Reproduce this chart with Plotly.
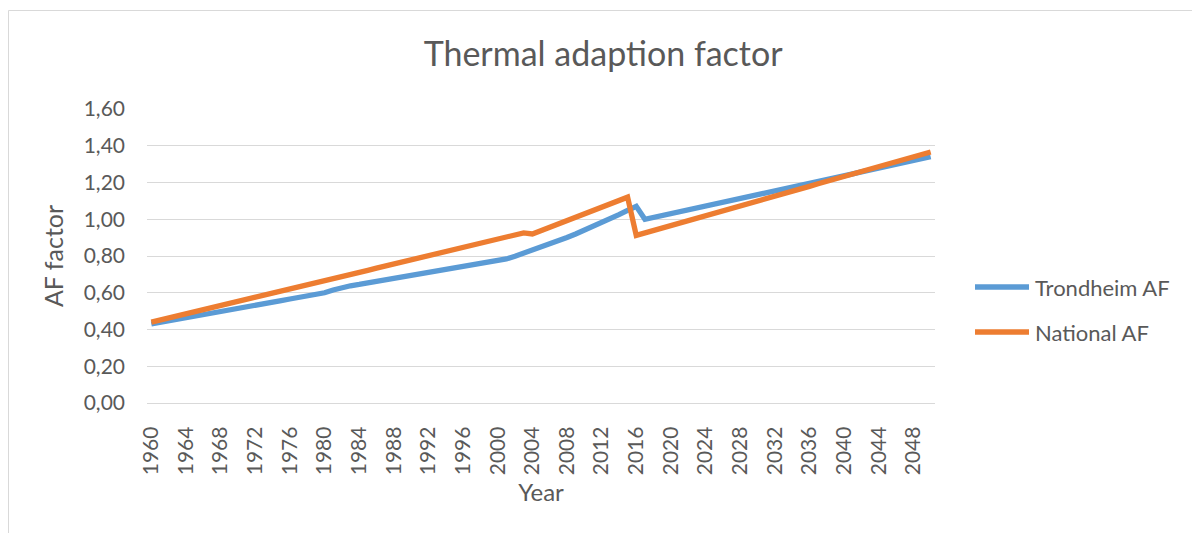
import plotly.graph_objects as go

# Years on the category axis
years = list(range(1960, 2051))

# Thermal adaption factor, Trondheim
trondheim_af = [
    0.430, 0.438, 0.447, 0.455, 0.464, 0.472, 0.481, 0.489, 0.498, 0.506,
    0.515, 0.523, 0.532, 0.540, 0.549, 0.557, 0.566, 0.574, 0.583, 0.591,
    0.600, 0.615, 0.630, 0.638, 0.645, 0.653, 0.661, 0.669, 0.677, 0.685,
    0.692, 0.700, 0.708, 0.716, 0.724, 0.731, 0.739, 0.747, 0.755, 0.762,
    0.770, 0.784, 0.799, 0.815, 0.832, 0.849, 0.866, 0.883, 0.901, 0.920,
    0.940, 0.960, 0.980, 1.002, 1.025, 1.048, 1.070, 1.000, 1.010, 1.021,
    1.031, 1.041, 1.052, 1.062, 1.072, 1.082, 1.093, 1.103, 1.113, 1.124,
    1.134, 1.144, 1.155, 1.165, 1.175, 1.185, 1.196, 1.206, 1.216, 1.227,
    1.237, 1.247, 1.258, 1.268, 1.278, 1.288, 1.299, 1.309, 1.319, 1.330,
    1.340,
]

# Thermal adaption factor, national
national_af = [
    0.440, 0.451, 0.463, 0.474, 0.485, 0.497, 0.508, 0.519, 0.530, 0.542,
    0.553, 0.564, 0.576, 0.587, 0.598, 0.609, 0.621, 0.632, 0.643, 0.655,
    0.666, 0.677, 0.689, 0.700, 0.711, 0.722, 0.734, 0.745, 0.756, 0.768,
    0.779, 0.790, 0.801, 0.813, 0.824, 0.835, 0.847, 0.858, 0.869, 0.881,
    0.892, 0.903, 0.914, 0.926, 0.920, 0.938, 0.956, 0.975, 0.993, 1.011,
    1.029, 1.047, 1.065, 1.084, 1.102, 1.120, 0.912, 0.925, 0.939, 0.952,
    0.966, 0.979, 0.992, 1.006, 1.019, 1.032, 1.046, 1.059, 1.073, 1.086,
    1.099, 1.113, 1.126, 1.139, 1.153, 1.166, 1.179, 1.193, 1.206, 1.220,
    1.233, 1.246, 1.260, 1.273, 1.286, 1.300, 1.313, 1.326, 1.340, 1.353,
    1.366,
]

series_names = ["Trondheim AF", "National AF"]
series_colors = ["#5B9BD5", "#ED7D31"]

y_ticks = [0.0, 0.2, 0.4, 0.6, 0.8, 1.0, 1.2, 1.4, 1.6]
y_tick_labels = [f"{v:.2f}".replace(".", ",") for v in y_ticks]
x_ticks = list(range(1960, 2051, 4))

W, H = 1192, 533
PLOT_L, PLOT_R, PLOT_T, PLOT_B = 147, 935, 109, 403
FONT = "Lato"
TEXT = "#595959"
GRID = "#D9D9D9"


def px_x(px):
    return (px - PLOT_L) / (PLOT_R - PLOT_L)


def px_y(py):
    return (PLOT_B - py) / (PLOT_B - PLOT_T)


fig = go.Figure()
for name, vals, col in zip(series_names, [trondheim_af, national_af], series_colors):
    fig.add_trace(go.Scatter(
        x=years, y=vals, mode="lines", name=name,
        line=dict(color=col, width=5.3, shape="linear"),
        showlegend=False,
    ))

# Chart-area frame (left and top edges)
shapes = [
    dict(type="line", xref="paper", yref="paper",
         x0=px_x(8.5), x1=px_x(W + 5), y0=px_y(10.5), y1=px_y(10.5),
         line=dict(color=GRID, width=1)),
    dict(type="line", xref="paper", yref="paper",
         x0=px_x(8.5), x1=px_x(8.5), y0=px_y(10.5), y1=px_y(H + 5),
         line=dict(color=GRID, width=1)),
]

# Legend entries drawn to the right of the plot
annotations = []
legend_rows = [287, 332]
for name, col, row in zip(series_names, series_colors, legend_rows):
    shapes.append(dict(type="line", xref="paper", yref="paper",
                       x0=px_x(975), x1=px_x(1029), y0=px_y(row), y1=px_y(row),
                       line=dict(color=col, width=5.3)))
    annotations.append(dict(text=name, xref="paper", yref="paper",
                            x=px_x(1033), y=px_y(row), xanchor="left",
                            yanchor="middle", showarrow=False,
                            font=dict(family=FONT, size=22, color=TEXT)))

fig.update_layout(
    width=W, height=H,
    margin=dict(l=PLOT_L, r=W - PLOT_R, t=PLOT_T, b=H - PLOT_B, pad=0),
    paper_bgcolor="white", plot_bgcolor="white",
    font=dict(family=FONT, color=TEXT),
    title=dict(text="Thermal adaption factor", x=0.506, xanchor="center",
               y=1 - 54 / H, yanchor="middle", yref="container",
               font=dict(family=FONT, size=34, color=TEXT)),
    shapes=shapes,
    annotations=annotations,
    xaxis=dict(
        range=[1959.5, 2050.5], tickmode="array", tickvals=x_ticks,
        ticktext=[str(v) for v in x_ticks], tickangle=-90,
        tickfont=dict(family=FONT, size=21, color=TEXT),
        showgrid=False, zeroline=False, showline=True, linecolor=GRID,
        linewidth=1.3, ticks="", ticklabelstandoff=14,
        title=dict(text="Year", font=dict(family=FONT, size=24, color=TEXT),
                   standoff=9),
    ),
    yaxis=dict(
        range=[0, 1.6], tickmode="array", tickvals=y_ticks,
        ticktext=y_tick_labels,
        tickfont=dict(family=FONT, size=21, color=TEXT),
        showgrid=True, gridcolor=GRID, gridwidth=1.3, zeroline=False,
        showline=False, ticks="", ticklabelstandoff=21,
        title=dict(text="AF factor", font=dict(family=FONT, size=25, color=TEXT),
                   standoff=12),
    ),
)

fig.write_html("out.html")
